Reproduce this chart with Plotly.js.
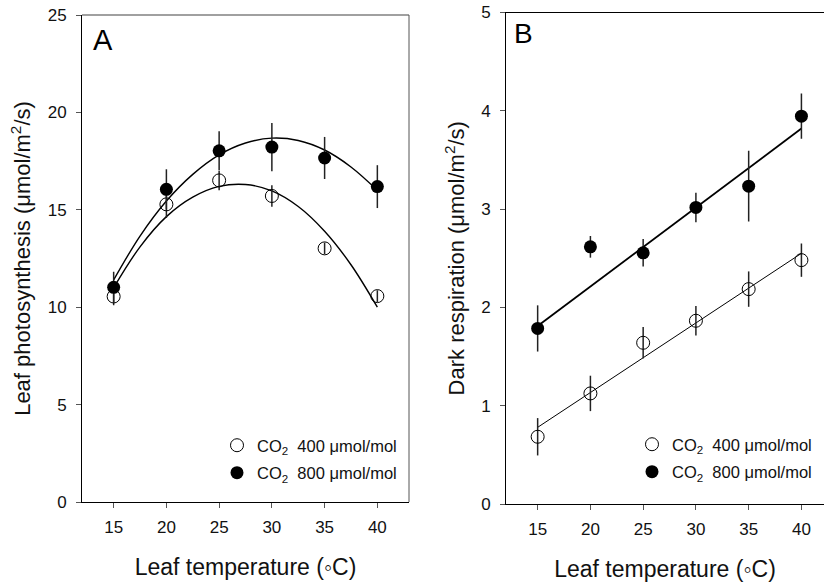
<!DOCTYPE html>
<html>
<head>
<meta charset="utf-8">
<script src="https://cdn.plot.ly/plotly-3.0.1.min.js"></script>
<style>html,body{margin:0;padding:0;background:#fff;}#chart{width:824px;height:587px;}</style>
</head>
<body>
<div id="chart"></div>
<script>
// ---- data ----
const temps = [15, 20, 25, 30, 35, 40];
const tempTicks = [15, 20, 25, 30, 35, 40];

// Panel A: leaf photosynthesis
const photo400 = [10.55, 15.28, 16.51, 15.71, 13.02, 10.57];
const photo400Err = [0.45, 0.7, 0.5, 0.55, 0.3, 0.3];
const photo800 = [11.02, 16.05, 18.03, 18.22, 17.66, 16.19];
const photo800Err = [0.8, 1.03, 1.0, 1.24, 1.08, 1.1];
const fitTemps = [15, 17.5, 20, 22.5, 25, 27.5, 30, 32.5, 35, 37.5, 40];
const photo400Fit = [11.0, 13.1, 14.65, 15.65, 16.2, 16.3, 15.97, 15.17, 13.9, 12.18, 10.0];
const photo800Fit = [11.4, 13.65, 15.45, 16.82, 17.82, 18.43, 18.68, 18.56, 18.07, 17.2, 16.0];

// Panel B: dark respiration
const resp400 = [0.684, 1.125, 1.64, 1.864, 2.186, 2.481];
const resp400Err = [0.19, 0.18, 0.16, 0.15, 0.18, 0.17];
const resp800 = [1.786, 2.616, 2.555, 3.017, 3.233, 3.945];
const resp800Err = [0.235, 0.11, 0.14, 0.15, 0.36, 0.23];
const lineTemps = [15, 40];
const resp400Line = [0.78, 2.55];
const resp800Line = [1.81, 3.82];

const legendNames = ['CO<sub>2</sub>\u00a0\u00a0400 \u03bcmol/mol', 'CO<sub>2</sub>\u00a0\u00a0800 \u03bcmol/mol'];

// ---- styling ----
const FONT = 'Arial, "Liberation Sans", sans-serif';
const W = 824, H = 587;
const px = v => v / W;
const py = v => (H - v) / H;

function fitLine(x, y, xa, ya, w) {
  return {x: x, y: y, xaxis: xa, yaxis: ya, mode: 'lines', type: 'scatter',
    line: {color: '#000', width: w, shape: 'spline', smoothing: 1}, showlegend: false, hoverinfo: 'skip'};
}
function pts(x, y, err, xa, ya, open, name, leg) {
  return {x: x, y: y, xaxis: xa, yaxis: ya, mode: 'markers', type: 'scatter', name: name,
    legend: leg, legendgroup: leg + name,
    error_y: {type: 'data', array: err, visible: true, color: '#222', thickness: 1.5, width: 0},
    marker: open ? {symbol: 'circle-open', size: 13, color: '#000', line: {width: 1, color: '#000'}}
                 : {symbol: 'circle', size: 13, color: '#000'}};
}

const traces = [
  fitLine(fitTemps, photo400Fit, 'x', 'y', 1.4),
  fitLine(fitTemps, photo800Fit, 'x', 'y', 1.4),
  pts(temps, photo400, photo400Err, 'x', 'y', true, legendNames[0], 'legend'),
  pts(temps, photo800, photo800Err, 'x', 'y', false, legendNames[1], 'legend'),
  fitLine(lineTemps, resp400Line, 'x2', 'y2', 1),
  fitLine(lineTemps, resp800Line, 'x2', 'y2', 1.8),
  pts(temps, resp400, resp400Err, 'x2', 'y2', true, legendNames[0], 'legend2'),
  pts(temps, resp800, resp800Err, 'x2', 'y2', false, legendNames[1], 'legend2')
];

const tickFont = {family: FONT, size: 17, color: '#111'};
const titleFont = {family: FONT, size: 22, color: '#111'};
function xax(domain, range, anchor) {
  return {domain: domain, range: range, anchor: anchor, tickvals: tempTicks, ticks: 'outside', ticklen: 5,
    tickcolor: '#555', tickwidth: 1, showline: true, linecolor: '#000', linewidth: 1, showgrid: false,
    zeroline: false, tickfont: tickFont, ticklabelstandoff: 5,
    title: {text: 'Leaf temperature (\u25e6C)', font: {family: FONT, size: 23, color: '#111'}, standoff: 22}};
}
function yax(domain, range, dtick, anchor, title) {
  return {domain: domain, range: range, anchor: anchor, dtick: dtick, tick0: 0, ticks: 'outside', ticklen: 5,
    tickcolor: '#555', tickwidth: 1, showline: true, linecolor: '#000', linewidth: 1, showgrid: false,
    zeroline: false, tickfont: tickFont, ticklabelstandoff: 6,
    title: {text: title, font: titleFont, standoff: 10}};
}
const legendBase = {bgcolor: 'rgba(0,0,0,0)', borderwidth: 0, font: {family: FONT, size: 16.5, color: '#111'},
  traceorder: 'grouped', tracegroupgap: 3, xanchor: 'left', yanchor: 'top'};

const layout = {
  width: W, height: H, margin: {l: 0, r: 0, t: 0, b: 0}, paper_bgcolor: '#fff', plot_bgcolor: '#fff',
  font: {family: FONT},
  xaxis: Object.assign(xax([px(82), px(409)], [12, 43], 'y'), {mirror: false}),
  yaxis: yax([py(502), py(15)], [0, 25], 5, 'x', 'Leaf photosynthesis (\u03bcmol/m<sup>2</sup>/s)'),
  xaxis2: Object.assign(xax([px(506), 1], [12, 42.14], 'y2'), {mirror: true}),
  yaxis2: yax([py(504), py(12.5)], [0, 5], 1, 'x2', 'Dark respiration (\u03bcmol/m<sup>2</sup>/s)'),
  legend: Object.assign({}, legendBase, {x: px(217), y: py(428)}),
  legend2: Object.assign({}, legendBase, {x: px(632), y: py(427)}),
  shapes: [
    {type: 'line', xref: 'x domain', yref: 'y domain', x0: 0, x1: 1, y0: 1, y1: 1, line: {color: '#808080', width: 1.3}},
    {type: 'line', xref: 'x domain', yref: 'y domain', x0: 1, x1: 1, y0: 0, y1: 1, line: {color: '#555', width: 1}}
  ],
  annotations: [
    {text: 'A', xref: 'paper', yref: 'paper', x: px(91), y: py(22), xanchor: 'left', yanchor: 'top', showarrow: false,
      font: {family: FONT, size: 29, color: '#000'}},
    {text: 'B', xref: 'paper', yref: 'paper', x: px(512), y: py(16), xanchor: 'left', yanchor: 'top', showarrow: false,
      font: {family: FONT, size: 28, color: '#000'}}
  ]
};

Plotly.newPlot('chart', traces, layout, {displayModeBar: false, staticPlot: true});
</script>
</body>
</html>
